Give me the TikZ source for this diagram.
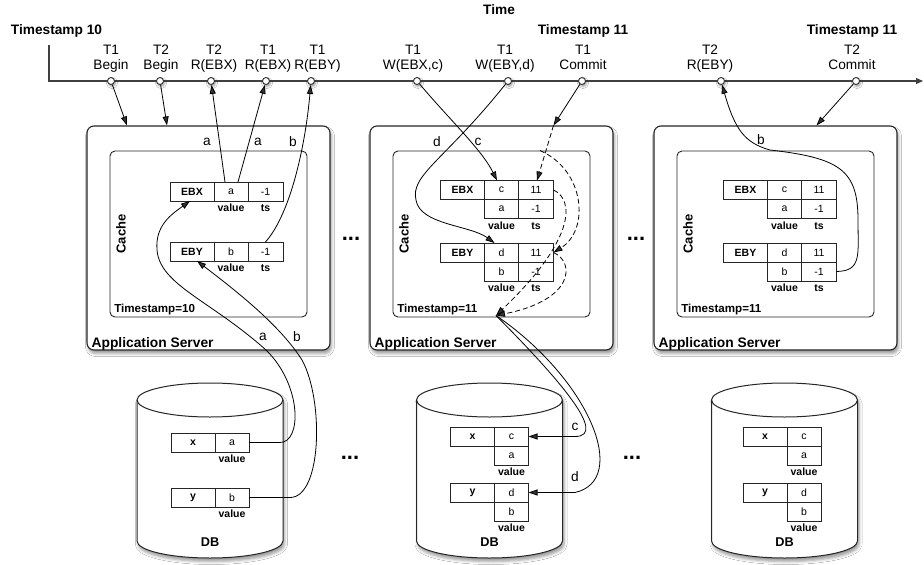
\documentclass[tikz,border=0pt]{standalone}
\usepackage{fontspec}
\setmainfont{Liberation Sans}
\usetikzlibrary{positioning, arrows.meta, shadows.blur}
\tikzset{
  node distance=0pt,
  stamp/.style={
      font=\fontsize{13.7}{16}\selectfont\bfseries,
      anchor=base,
      inner sep=0pt
    },
  evt/.style={
      circle,
      draw=black!80,
      line width=0.9pt,
      fill=white,
      inner sep=0pt,
      minimum size=7pt,
      blur shadow={shadow xshift=1pt, shadow yshift=-2pt, shadow blur radius=2pt}
    },
  evtxt/.style={
      align=center,
      font=\fontsize{13.7}{14.3}\selectfont,
      inner sep=1pt
    },
  server/.style={
      draw=black!85,
      line width=1.1pt,
      fill=white,
      rounded corners=7pt,
      minimum width=243pt,
      minimum height=224pt,
      blur shadow={shadow xshift=1.5pt, shadow yshift=-3.5pt, shadow blur radius=3pt}
    },
  srvtitle/.style={
      font=\fontsize{13.8}{16}\selectfont\bfseries,
      anchor=base west,
      inner sep=0pt
    },
  cache/.style={
      draw=black!85,
      line width=0.9pt,
      rounded corners=5pt,
      minimum width=197pt,
      minimum height=166pt
    },
  cachetitle/.style={
      font=\fontsize{13}{15}\selectfont\bfseries,
      rotate=90,
      inner sep=0pt
    },
  tstitle/.style={
      font=\fontsize{11.6}{13}\selectfont\bfseries,
      anchor=base west,
      inner sep=0pt
    },
  keycell/.style={
      draw=black!85,
      line width=0.9pt,
      fill=white,
      outer sep=0pt,
      inner sep=0pt,
      minimum width=44pt,
      minimum height=19pt,
      font=\fontsize{10.5}{12}\selectfont\bfseries
    },
  valcell/.style={
      keycell,
      minimum width=34pt,
      font=\fontsize{10.5}{12}\selectfont
    },
  tscell/.style={
      valcell,
      minimum width=35pt
    },
  colname/.style={
      font=\fontsize{10.5}{12}\selectfont\bfseries,
      inner sep=1pt,
      text height=7.5pt,
      text depth=0pt
    },
  dbline/.style={
      draw=black!85,
      line width=1pt
    },
  dbshape/.style={
      dbline,
      fill=white,
      blur shadow={shadow xshift=1.5pt, shadow yshift=-3.5pt, shadow blur radius=3pt}
    },
  dbtitle/.style={
      font=\fontsize{12.7}{15}\selectfont\bfseries,
      anchor=base,
      inner sep=0pt
    },
  moredots/.style={
      font=\fontsize{22}{22}\selectfont\bfseries,
      anchor=base,
      inner sep=0pt
    },
  elbl/.style={
      font=\fontsize{13.7}{16}\selectfont,
      inner sep=0pt
    },
  timeline/.style={
      draw=black!75,
      line width=1.2pt,
      -{Triangle[length=7pt, width=6pt]}
    },
  arr/.style={
      line width=0.8pt,
      -{Triangle[length=9pt, width=6pt]}
    },
  dasharr/.style={
      arr,
      dash pattern=on 5pt off 3pt
    }
}

\begin{document}
\begin{tikzpicture}[x=1pt, y=-1pt]
  \useasboundingbox[fill=white] (0,0) rectangle (924,565);

  % time axis
  \coordinate (tl0) at (49,45);
  \coordinate (tl1) at (923,81);
  \draw[timeline] (tl0) |- (tl1);
  \node[stamp] (time) at (499,14) {Time};
  \node[stamp] (ts10) at (56.5,34) {Timestamp 10};
  \node[stamp] (ts11a) at (583,34) {Timestamp 11};
  \node[stamp] (ts11b) at (852,34) {Timestamp 11};

  \foreach \n/\x/\dx/\who/\what in {b1/111/0/T1/Begin, b2/160/1/T2/Begin,
      r2x/211/3/T2/R(EBX), r1x/266/2/T1/R(EBX), r1y/311/6.5/T1/R(EBY),
      w1x/417/-4/T1/{W(EBX,c)}, w1y/508/-3/T1/{W(EBY,d)}, c1/582/1/T1/Commit,
      r2y/721/-11/T2/R(EBY), c2/856/-4/T2/Commit} {
    \node[evt] (\n) at (\x,81) {};
    \node[evtxt, above=2.5pt of \n, xshift=\dx pt] (\n-txt) {\who\\\what\strut};
  }

  % application servers with their caches
  \foreach \i/\cx/\ts in {1/208.5/10, 2/491.5/11, 3/775.5/11} {
    \node[server] (srv\i) at (\cx,238) {};
    \node[srvtitle] (srvt\i) at ([xshift=5pt, yshift=3pt]srv\i.south west) {Application Server};
    \node[cache] (cache\i) at (\cx,234) {};
    \node[cachetitle] (cachet\i) at ([xshift=11.5pt]cache\i.west) {Cache};
    \node[tstitle] (cts\i) at ([xshift=4.5pt, yshift=5pt]cache\i.south west) {Timestamp=\ts};
  }

  % cache of server 1: one version per entry
  \node[keycell] (s1xk) at (192,191.5) {EBX};
  \node[valcell, right=of s1xk] (s1xv) {a};
  \node[tscell, right=of s1xv] (s1xt) {-1};
  \node[colname, below=2pt of s1xv] (s1xvl) {value};
  \node[colname, below=2pt of s1xt] (s1xtl) {ts};
  \node[keycell] (s1yk) at (192,251.5) {EBY};
  \node[valcell, right=of s1yk] (s1yv) {b};
  \node[tscell, right=of s1yv] (s1yt) {-1};
  \node[colname, below=2pt of s1yv] (s1yvl) {value};
  \node[colname, below=2pt of s1yt] (s1ytl) {ts};

  % caches of servers 2 and 3: two versions per entry
  \foreach \srv/\kx in {2/462.5, 3/745.5} {
    \node[keycell] (s\srv xk) at (\kx,190) {EBX};
    \node[valcell, right=of s\srv xk] (s\srv xv) {c};
    \node[tscell, right=of s\srv xv] (s\srv xt) {11};
    \node[valcell, below=of s\srv xv] (s\srv xv2) {a};
    \node[tscell, below=of s\srv xt] (s\srv xt2) {-1};
    \node[colname, below=2pt of s\srv xv2] (s\srv xvl) {value};
    \node[colname, below=2pt of s\srv xt2] (s\srv xtl) {ts};
    \node[keycell] (s\srv yk) at (\kx,252.5) {EBY};
    \node[valcell, right=of s\srv yk] (s\srv yv) {d};
    \node[tscell, right=of s\srv yv] (s\srv yt) {11};
    \node[valcell, below=of s\srv yv] (s\srv yv2) {b};
    \node[tscell, below=of s\srv yt] (s\srv yt2) {-1};
    \node[colname, below=2pt of s\srv yv2] (s\srv yvl) {value};
    \node[colname, below=2pt of s\srv yt2] (s\srv ytl) {ts};
  }

  % databases
  \foreach \i/\cx in {1/210, 2/489.5, 3/784.5} {
    \path[dbshape] (\cx-73,400) -- (\cx-73,541)
      arc[start angle=180, end angle=360, x radius=73pt, y radius=17pt]
      -- (\cx+73,400)
      arc[start angle=0, end angle=180, x radius=73pt, y radius=17pt] -- cycle;
    \draw[dbline] (\cx-73,400)
      arc[start angle=180, end angle=360, x radius=73pt, y radius=17pt];
    \node[dbtitle] (db\i) at (\cx,546.5) {DB};
  }

  \node[keycell] (d1xk) at (193,442.5) {x};
  \node[valcell, right=of d1xk] (d1xv) {a};
  \node[colname, below=2pt of d1xv] (d1xvl) {value};
  \node[keycell] (d1yk) at (193,497.5) {y};
  \node[valcell, right=of d1yk] (d1yv) {b};
  \node[colname, below=2pt of d1yv] (d1yvl) {value};

  \foreach \d/\kx in {2/472.5, 3/765} {
    \node[keycell] (d\d xk) at (\kx,436.5) {x};
    \node[valcell, right=of d\d xk] (d\d xv) {c};
    \node[valcell, below=of d\d xv] (d\d xv2) {a};
    \node[colname, below=2pt of d\d xv2] (d\d xvl) {value};
    \node[keycell] (d\d yk) at (\kx,492.5) {y};
    \node[valcell, right=of d\d yk] (d\d yv) {d};
    \node[valcell, below=of d\d yv] (d\d yv2) {b};
    \node[colname, below=2pt of d\d yv2] (d\d yvl) {value};
  }

  \node[moredots] (dots1) at (351,240) {...};
  \node[moredots] (dots2) at (636,240) {...};
  \node[moredots] (dots3) at (350,459) {...};
  \node[moredots] (dots4) at (632,459) {...};

  % server 1: begin, reads, and loads from the db
  \draw[arr] (b1) -- ([xshift=-81.5pt]srv1.north);
  \draw[arr] (b2) -- ([xshift=-41.5pt]srv1.north);
  \draw[arr] ([xshift=-6pt]s1xv.north) -- (r2x);
  \draw[arr] ([xshift=7pt]s1xv.north) -- (r1x);
  \draw[arr] (s1yt.north) .. controls (292,212) and (306,140) .. (r1y);
  \draw[arr] (d1xv.east) -- (280,442.5) .. controls (302,442.5) and (302,385) .. (266,350)
    .. controls (210,300) and (160,285) .. (157,250)
    .. controls (155,225) and (172,214) .. ([xshift=-2pt]s1xk.south);
  \draw[arr] (d1yv.east) -- (290,497.5) .. controls (322,497.5) and (324,400) .. (302,360)
    .. controls (280,325) and (235,290) .. ([xshift=5pt]s1yk.south);
  \node[elbl] (la1) at (207,142) {a};
  \node[elbl] (la2) at (258,142) {a};
  \node[elbl] (lb1) at (293,142) {b};
  \node[elbl] (la3) at (263,337) {a};
  \node[elbl] (lb2) at (297,337) {b};

  % server 2: writes, commit, write-back
  \draw[arr] (w1x) .. controls (450,120) and (482,150) .. ([xshift=-4.5pt]s2xv.north);
  \draw[arr] (w1y) .. controls (445,160) and (410,175) .. (416,200)
    .. controls (420,225) and (470,225) .. ([xshift=-7pt]s2yv.north);
  \coordinate (cm2) at ([xshift=62pt]srv2.north);
  \coordinate (top2) at ([xshift=48.5pt]cache2.north);
  \coordinate (ts2) at ([xshift=4.5pt, yshift=2pt]cache2.south);
  \draw[arr] (c1) -- (cm2);
  \draw[dasharr] (cm2) -- ([xshift=1pt]s2xt.north);
  \draw[dasharr] (top2) .. controls (585,170) and (590,230) .. (s2yt.east);
  \draw[dasharr] (s2xt.east) .. controls (575,200) and (575,240) .. (ts2);
  \draw[dasharr] (s2yt.east) .. controls (575,262) and (575,300) .. (ts2);
  \draw[arr] (ts2) .. controls (555,375) and (610,436.5) .. (575,436.5) -- (d2xv.east);
  \draw[arr] (ts2) .. controls (590,380) and (630,480) .. (575,492.5) -- (d2yv.east);
  \node[elbl] (ld1) at (437,142) {d};
  \node[elbl] (lc1) at (478,142) {c};
  \node[elbl] (lc2) at (575,427) {c};
  \node[elbl] (ld2) at (575,477) {d};

  % server 3: read of the old version, commit
  \draw[arr] (s3yt2.east) .. controls (862,271) and (858,255) .. (858,220)
    .. controls (858,170) and (840,158) .. (770,150)
    .. controls (745,143) and (735,130) .. (r2y);
  \draw[arr] (c2) -- ([xshift=41pt]srv3.north);
  \node[elbl] (lb3) at (761,140) {b};
\end{tikzpicture}
\end{document}
